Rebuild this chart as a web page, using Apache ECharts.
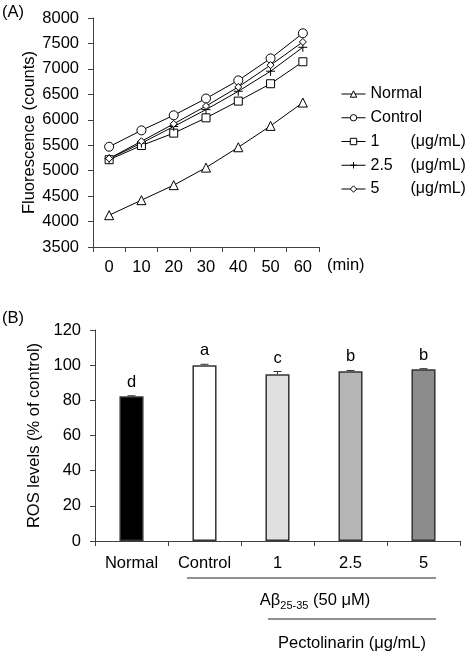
<!DOCTYPE html>
<html>
<head>
<meta charset="utf-8">
<script src="https://cdn.jsdelivr.net/npm/echarts@6/dist/echarts.min.js"></script>
<style>
  html, body { margin: 0; padding: 0; background: #fff; }
  #main { width: 468px; height: 655px; }
</style>
</head>
<body>
<div id="main"></div>
<script>
// (A) fluorescence over time
const minutes = ['0', '10', '20', '30', '40', '50', '60'];
const normalCounts  = [4125, 4420, 4715, 5060, 5460, 5880, 6338];
const controlCounts = [5470, 5792, 6088, 6418, 6774, 7206, 7700];
const pec1Counts    = [5215, 5494, 5738, 6038, 6367, 6708, 7140];
const pec25Counts   = [5236, 5540, 5868, 6200, 6560, 6954, 7424];
const pec5Counts    = [5240, 5578, 5920, 6270, 6645, 7074, 7530];

// (B) ROS levels
const groups = ['Normal', 'Control', '1', '2.5', '5'];
const rosLevels = [82.3, 100, 94.8, 96.5, 97.7];
const rosErrors = [0.3, 0.5, 1.6, 0.5, 0.3];
const sigLetters = ['d', 'a', 'c', 'b', 'b'];
const barColors = ['#000000', '#ffffff', '#e0e0e0', '#b6b6b6', '#8c8c8c'];

const FONT = 'Liberation Sans, Arial, sans-serif';
const FS = 16.5;
const AXIS = '#404040';

const chart = echarts.init(document.getElementById('main'), null, { renderer: 'canvas' });

function lineSeries(name, data, symbol, size) {
  return {
    name: name,
    type: 'line',
    xAxisIndex: 0,
    yAxisIndex: 0,
    data: data,
    symbol: symbol,
    symbolSize: size,
    lineStyle: { color: '#000', width: 1 },
    itemStyle: { color: '#fff', borderColor: '#000', borderWidth: 1 },
    emphasis: { disabled: true },
    animation: false
  };
}

const plusSymbol = 'path://M0,5H10M5,0V10';
const plainNum = function (v) { return String(v); };

chart.setOption({
  animation: false,
  textStyle: { fontFamily: FONT },
  grid: [
    { left: 93, top: 18, width: 226, height: 229 },
    { left: 95, top: 330, width: 365, height: 211 }
  ],
  legend: {
    orient: 'vertical',
    left: 341,
    top: 86,
    padding: 0,
    itemWidth: 24,
    itemHeight: 8,
    itemGap: 7.75,
    selectedMode: false,
    lineStyle: { width: 1, color: '#000' },
    itemStyle: { borderWidth: 1, borderColor: '#000' },
    data: ['Normal', 'Control', '1', '2.5', '5'],
    formatter: function (name) {
      if (name === 'Normal' || name === 'Control') return '{a|' + name + '}';
      return '{a|' + name + '}{b|(μg/mL)}';
    },
    textStyle: {
      fontSize: 16,
      color: '#000',
      fontFamily: FONT,
      lineHeight: 16,
      rich: {
        a: { fontSize: 16, width: 40, color: '#000', fontFamily: FONT, lineHeight: 16 },
        b: { fontSize: 16, color: '#000', fontFamily: FONT, lineHeight: 16 }
      }
    }
  },
  xAxis: [
    {
      type: 'category',
      gridIndex: 0,
      data: minutes,
      boundaryGap: true,
      axisLine: { show: true, lineStyle: { color: AXIS, width: 1 } },
      axisTick: { show: true, length: 5, lineStyle: { color: AXIS } },
      axisLabel: { fontSize: FS, color: '#000', margin: 12, fontFamily: FONT },
      splitLine: { show: false }
    },
    {
      type: 'category',
      gridIndex: 1,
      data: groups,
      boundaryGap: true,
      axisLine: { show: true, lineStyle: { color: AXIS, width: 1 } },
      axisTick: { show: true, length: 5, lineStyle: { color: AXIS } },
      axisLabel: { fontSize: FS, color: '#000', margin: 14, fontFamily: FONT },
      splitLine: { show: false }
    }
  ],
  yAxis: [
    {
      type: 'value',
      gridIndex: 0,
      min: 3500,
      max: 8000,
      interval: 500,
      name: 'Fluorescence (counts)',
      nameLocation: 'middle',
      nameGap: 54,
      nameTextStyle: { fontSize: FS, color: '#000', fontFamily: FONT },
      axisLine: { show: true, lineStyle: { color: AXIS, width: 1 } },
      axisTick: { show: true, length: 5, lineStyle: { color: AXIS } },
      axisLabel: { fontSize: FS, color: '#000', margin: 14, fontFamily: FONT, formatter: plainNum },
      splitLine: { show: false }
    },
    {
      type: 'value',
      gridIndex: 1,
      min: 0,
      max: 120,
      interval: 20,
      name: 'ROS levels (% of control)',
      nameLocation: 'middle',
      nameGap: 44,
      nameTextStyle: { fontSize: FS, color: '#000', fontFamily: FONT },
      axisLine: { show: true, lineStyle: { color: AXIS, width: 1 } },
      axisTick: { show: true, length: 5, lineStyle: { color: AXIS } },
      axisLabel: { fontSize: FS, color: '#000', margin: 14, fontFamily: FONT, formatter: plainNum },
      splitLine: { show: false }
    }
  ],
  series: [
    lineSeries('Normal', normalCounts, 'triangle', 9),
    lineSeries('Control', controlCounts, 'circle', 9),
    lineSeries('1', pec1Counts, 'rect', 8),
    lineSeries('2.5', pec25Counts, plusSymbol, 9),
    lineSeries('5', pec5Counts, 'diamond', 7),
    {
      name: 'ROS',
      type: 'bar',
      xAxisIndex: 1,
      yAxisIndex: 1,
      barWidth: '33%',
      data: rosLevels.map(function (v, i) {
        return { value: v, itemStyle: { color: barColors[i] } };
      }),
      itemStyle: { borderColor: '#333', borderWidth: 1.5 },
      emphasis: { disabled: true }
    },
    {
      name: 'error',
      type: 'custom',
      xAxisIndex: 1,
      yAxisIndex: 1,
      z: 5,
      data: rosLevels.map(function (v, i) { return [i, v, rosErrors[i]]; }),
      encode: { x: 0, y: 1 },
      renderItem: function (params, api) {
        const idx = api.value(0);
        const v = api.value(1);
        const e = api.value(2);
        const base = api.coord([idx, v]);
        const top = api.coord([idx, v + e]);
        const st = { stroke: '#333', lineWidth: 1 };
        return {
          type: 'group',
          children: [
            { type: 'line', shape: { x1: top[0], y1: base[1], x2: top[0], y2: top[1] }, style: st },
            { type: 'line', shape: { x1: top[0] - 4, y1: top[1], x2: top[0] + 4, y2: top[1] }, style: st },
            {
              type: 'text',
              style: {
                text: sigLetters[params.dataIndex],
                x: top[0],
                y: top[1] - 5,
                align: 'center',
                verticalAlign: 'bottom',
                fontSize: FS,
                fontFamily: FONT,
                fill: '#000'
              }
            }
          ]
        };
      }
    }
  ],
  graphic: [
    { type: 'text', left: 2, top: 4, style: { text: '(A)', fontSize: FS, fontFamily: FONT, fill: '#000' } },
    { type: 'text', left: 2, top: 310, style: { text: '(B)', fontSize: FS, fontFamily: FONT, fill: '#000' } },
    { type: 'text', left: 327, top: 257, style: { text: '(min)', fontSize: FS, fontFamily: FONT, fill: '#000' } },
    { type: 'line', shape: { x1: 187, y1: 578, x2: 436, y2: 578 }, style: { stroke: '#222', lineWidth: 1 } },
    {
      type: 'text',
      x: 315,
      y: 600,
      style: {
        text: '{n|Aβ}{s|25-35}{n| (50 μM)}',
        align: 'center',
        verticalAlign: 'middle',
        fill: '#000',
        rich: {
          n: { fontSize: FS, fontFamily: FONT, lineHeight: 22, verticalAlign: 'middle', fill: '#000' },
          s: { fontSize: 11, fontFamily: FONT, lineHeight: 11, verticalAlign: 'bottom', fill: '#000' }
        }
      }
    },
    { type: 'line', shape: { x1: 268, y1: 619, x2: 436, y2: 619 }, style: { stroke: '#222', lineWidth: 1 } },
    {
      type: 'text',
      x: 352,
      y: 643,
      style: { text: 'Pectolinarin (μg/mL)', align: 'center', verticalAlign: 'middle', fontSize: FS, fontFamily: FONT, fill: '#000' }
    }
  ]
});
</script>
</body>
</html>
